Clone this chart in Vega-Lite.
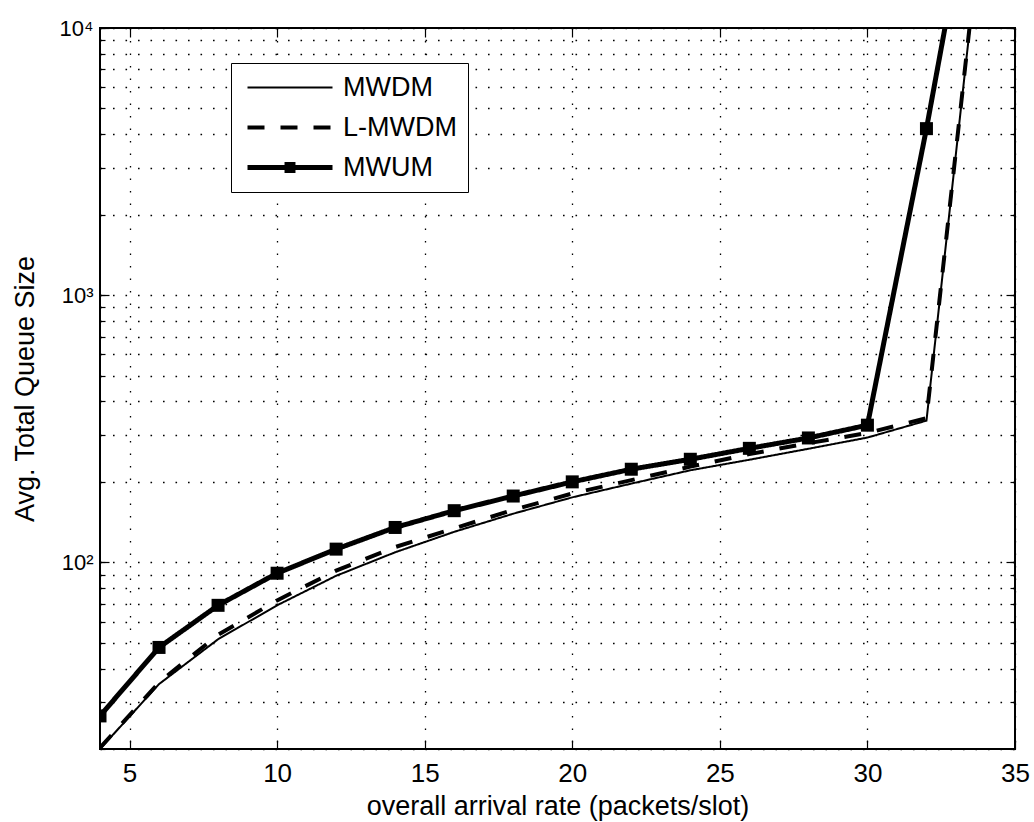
{
  "$schema": "https://vega.github.io/schema/vega-lite/v6.json",
  "width": 915,
  "height": 721,
  "autosize": {"type": "none"},
  "padding": {"left": 100, "top": 28, "right": 19, "bottom": 73},
  "background": "white",
  "config": {
    "view": {"stroke": "black", "strokeWidth": 2},
    "font": "Liberation Sans",
    "axis": {
      "domain": false,
      "labelFont": "Liberation Sans",
      "labelFontSize": 26,
      "labelColor": "black",
      "labelFlush": false,
      "labelOverlap": false,
      "tickColor": "black",
      "tickWidth": 1.2,
      "gridColor": "black",
      "gridDash": [1.6, 10.9],
      "gridWidth": 1.3,
      "gridOpacity": 1,
      "titleFont": "Liberation Sans",
      "titleFontSize": 27,
      "titleFontWeight": "normal",
      "titleColor": "black"
    }
  },
  "data": {
    "values": [
      {"series": "MWDM", "rate": 4, "queue": 20},
      {"series": "MWDM", "rate": 6, "queue": 35},
      {"series": "MWDM", "rate": 8, "queue": 51.5},
      {"series": "MWDM", "rate": 10, "queue": 69},
      {"series": "MWDM", "rate": 12, "queue": 89},
      {"series": "MWDM", "rate": 14, "queue": 109},
      {"series": "MWDM", "rate": 16, "queue": 130},
      {"series": "MWDM", "rate": 18, "queue": 152},
      {"series": "MWDM", "rate": 20, "queue": 175},
      {"series": "MWDM", "rate": 22, "queue": 197},
      {"series": "MWDM", "rate": 24, "queue": 221},
      {"series": "MWDM", "rate": 26, "queue": 242},
      {"series": "MWDM", "rate": 28, "queue": 266},
      {"series": "MWDM", "rate": 30, "queue": 293},
      {"series": "MWDM", "rate": 32, "queue": 339},
      {"series": "MWDM", "rate": 34, "queue": 34000},
      {"series": "L-MWDM", "rate": 4, "queue": 20.2},
      {"series": "L-MWDM", "rate": 6, "queue": 35.5},
      {"series": "L-MWDM", "rate": 8, "queue": 53.5},
      {"series": "L-MWDM", "rate": 10, "queue": 72},
      {"series": "L-MWDM", "rate": 12, "queue": 93},
      {"series": "L-MWDM", "rate": 14, "queue": 114},
      {"series": "L-MWDM", "rate": 16, "queue": 134},
      {"series": "L-MWDM", "rate": 18, "queue": 157},
      {"series": "L-MWDM", "rate": 20, "queue": 181},
      {"series": "L-MWDM", "rate": 22, "queue": 203},
      {"series": "L-MWDM", "rate": 24, "queue": 228},
      {"series": "L-MWDM", "rate": 26, "queue": 254},
      {"series": "L-MWDM", "rate": 28, "queue": 279},
      {"series": "L-MWDM", "rate": 30, "queue": 305},
      {"series": "L-MWDM", "rate": 32, "queue": 346},
      {"series": "L-MWDM", "rate": 34, "queue": 35000},
      {"series": "MWUM", "rate": 4, "queue": 26.6},
      {"series": "MWUM", "rate": 6, "queue": 48},
      {"series": "MWUM", "rate": 8, "queue": 69},
      {"series": "MWUM", "rate": 10, "queue": 91},
      {"series": "MWUM", "rate": 12, "queue": 112},
      {"series": "MWUM", "rate": 14, "queue": 135},
      {"series": "MWUM", "rate": 16, "queue": 156},
      {"series": "MWUM", "rate": 18, "queue": 177},
      {"series": "MWUM", "rate": 20, "queue": 200},
      {"series": "MWUM", "rate": 22, "queue": 223},
      {"series": "MWUM", "rate": 24, "queue": 243},
      {"series": "MWUM", "rate": 26, "queue": 267},
      {"series": "MWUM", "rate": 28, "queue": 292},
      {"series": "MWUM", "rate": 30, "queue": 326},
      {"series": "MWUM", "rate": 32, "queue": 4200},
      {"series": "MWUM", "rate": 34, "queue": 67000}
    ]
  },
  "layer": [
    {
      "transform": [{"filter": "datum.series === 'MWDM'"}],
      "mark": {"type": "line", "clip": true, "color": "black", "strokeWidth": 2},
      "encoding": {
        "x": {
          "field": "rate", "type": "quantitative",
          "scale": {"domain": [4, 35], "nice": false, "zero": false},
          "axis": {
            "orient": "bottom",
            "values": [5, 10, 15, 20, 25, 30, 35],
            "tickSize": -9,
            "grid": true,
            "labelPadding": 20,
            "title": "overall arrival rate (packets/slot)",
            "titleBaseline": "alphabetic",
            "titleY": 65
          }
        },
        "y": {
          "field": "queue", "type": "quantitative",
          "scale": {"type": "log", "domain": [20, 10000], "nice": false},
          "axis": {
            "orient": "left",
            "values": [100, 1000, 10000],
            "tickSize": -9,
            "grid": false,
            "labelPadding": 16,
            "labelFontSize": 22,
            "labelBaseline": "middle",
            "labelExpr": "datum.value == 100 ? '10²' : datum.value == 1000 ? '10³' : '10⁴'",
            "title": "Avg. Total Queue Size",
            "titleAngle": -90,
            "titleBaseline": "alphabetic",
            "titleAlign": "center",
            "titleX": -67,
            "titleY": 360.5
          }
        },
        "strokeDash": {
          "field": "series", "type": "nominal",
          "scale": {"domain": ["MWDM", "L-MWDM", "MWUM"], "range": [[1, 0], [17, 16], [1, 0]]},
          "legend": {
            "orient": "none",
            "legendX": 131,
            "legendY": 35,
            "title": null,
            "labelFont": "Liberation Sans",
            "labelFontSize": 27,
            "labelColor": "black",
            "labelBaseline": "middle",
            "strokeColor": "black",
            "fillColor": "white",
            "padding": 11,
            "rowPadding": 12,
            "symbolOffset": 34.5,
            "labelOffset": 39.5,
            "symbolSize": 7225,
            "symbolStrokeColor": "black",
            "symbolType": {"expr": "datum.value === 'MWUM' ? 'M-1,0H1M-0.07,-0.07H0.07V0.07H-0.07Z' : 'stroke'"},
            "symbolStrokeWidth": {"expr": "datum.value === 'MWDM' ? 2 : datum.value === 'MWUM' ? 5 : 4"},
            "symbolFillColor": {"expr": "datum.value === 'MWUM' ? 'black' : 'transparent'"}
          }
        }
      }
    },
    {
      "transform": [{"filter": "datum.series === 'L-MWDM'"}],
      "mark": {"type": "line", "clip": true, "color": "black", "strokeWidth": 4},
      "encoding": {
        "x": {
          "field": "rate", "type": "quantitative",
          "scale": {"domain": [4, 35], "nice": false, "zero": false},
          "axis": {
            "orient": "top",
            "values": [5, 10, 15, 20, 25, 30, 35],
            "tickSize": -9,
            "grid": false,
            "labels": false,
            "title": null
          }
        },
        "y": {
          "field": "queue", "type": "quantitative",
          "scale": {"type": "log", "domain": [20, 10000], "nice": false},
          "axis": {
            "orient": "left",
            "values": [20, 30, 40, 50, 60, 70, 80, 90, 100, 200, 300, 400, 500, 600, 700, 800, 900, 1000, 2000, 3000, 4000, 5000, 6000, 7000, 8000, 9000, 10000],
            "tickSize": -5,
            "grid": true,
            "labels": false,
            "title": null
          }
        },
        "strokeDash": {
          "field": "series", "type": "nominal",
          "scale": {"domain": ["MWDM", "L-MWDM", "MWUM"], "range": [[1, 0], [17, 16], [1, 0]]}
        }
      }
    },
    {
      "transform": [{"filter": "datum.series === 'MWUM'"}],
      "mark": {"type": "line", "clip": true, "color": "black", "strokeWidth": 5},
      "encoding": {
        "x": {
          "field": "rate", "type": "quantitative",
          "scale": {"domain": [4, 35], "nice": false, "zero": false},
          "axis": null
        },
        "y": {
          "field": "queue", "type": "quantitative",
          "scale": {"type": "log", "domain": [20, 10000], "nice": false},
          "axis": {
            "orient": "right",
            "values": [100, 1000, 10000],
            "tickSize": -9,
            "grid": false,
            "labels": false,
            "title": null
          }
        },
        "strokeDash": {
          "field": "series", "type": "nominal",
          "scale": {"domain": ["MWDM", "L-MWDM", "MWUM"], "range": [[1, 0], [17, 16], [1, 0]]}
        }
      }
    },
    {
      "transform": [{"filter": "datum.series === 'MWUM'"}],
      "mark": {"type": "point", "shape": "square", "filled": true, "color": "black", "opacity": 1, "size": 169, "clip": true},
      "encoding": {
        "x": {
          "field": "rate", "type": "quantitative",
          "scale": {"domain": [4, 35], "nice": false, "zero": false},
          "axis": null
        },
        "y": {
          "field": "queue", "type": "quantitative",
          "scale": {"type": "log", "domain": [20, 10000], "nice": false},
          "axis": {
            "orient": "right",
            "values": [20, 30, 40, 50, 60, 70, 80, 90, 100, 200, 300, 400, 500, 600, 700, 800, 900, 1000, 2000, 3000, 4000, 5000, 6000, 7000, 8000, 9000, 10000],
            "tickSize": -5,
            "grid": false,
            "labels": false,
            "title": null
          }
        }
      }
    }
  ],
  "resolve": {"axis": {"x": "independent", "y": "independent"}}
}
